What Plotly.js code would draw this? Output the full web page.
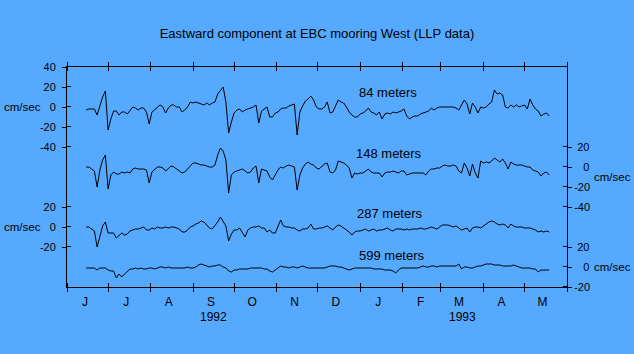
<!DOCTYPE html>
<html>
<head>
<meta charset="utf-8">
<script src="https://cdn.plot.ly/plotly-3.0.1.min.js"></script>
<style>
html,body{margin:0;padding:0;background:#55AAFF;}
#chart{width:634px;height:354px;}
</style>
</head>
<body>
<div id="chart"></div>
<script>
// ---- data (cm/sec), one value every 2 days starting 1992-06-15 ----
const startDate = '1992-06-15';
const stepDays = 2;
const seriesNames = ['84 meters', '148 meters', '287 meters', '599 meters'];

const u84 = [
 -3,-2,-2,-2,-8,1,10,16,-23,-12,
 -4,-4,-8,-5,-5,-7,-3,0,-1,-3,
 -1,-1,-5,-17,-5,-3,0,2,0,-6,
 -1,2,2,0,0,-5,-3,0,5,4,
 5,4,3,2,4,2,4,5,13,16,
 20,5,-26,-15,-6,-3,-2,-5,-3,-2,
 -1,0,2,-16,-4,-2,0,-10,-10,-6,
 -5,-2,-1,-1,1,2,3,-28,-5,1,
 6,8,11,7,0,-2,-2,0,5,-6,
 -5,1,7,5,4,0,-5,-8,-10,-10,
 -7,-6,-4,-1,-5,-6,-8,-5,-12,-7,
 -6,-7,-5,-6,-5,-4,-2,-9,-12,-10,
 -9,-9,-7,-6,-5,-4,-1,-3,-1,0,
 0,0,0,0,0,-1,-3,2,7,3,
 -7,4,0,-6,0,-1,0,3,5,17,
 13,14,12,0,-1,2,0,2,0,1,
 2,-2,8,2,-2,-4,-9,-7,-6,-9
];
const u148 = [
 0,0,-2,-4,-20,-3,7,12,-22,-8,
 -5,-7,-7,-5,-6,-5,-6,-2,-1,-2,
 -2,-2,-3,-16,-5,-2,0,0,-1,-4,
 -1,1,0,-2,-4,-6,-5,-2,1,4,
 4,3,2,2,1,0,0,2,12,19,
 16,7,-26,-8,-5,-4,-3,-2,-4,-6,
 -5,-1,1,-16,-2,-3,-4,-10,-13,-8,
 -3,0,-1,1,2,1,0,-23,-8,-1,
 3,5,3,2,-1,-2,1,3,4,-5,
 -6,-3,6,5,4,2,-1,-11,-6,-7,
 -6,-6,-4,-2,-5,-6,-6,-6,-10,-6,
 -5,-5,-4,-5,-6,-4,-4,-8,-7,-6,
 -6,-6,-6,-6,-8,-4,-2,-2,-1,-1,
 1,2,1,1,2,1,-4,-6,4,-1,
 -9,3,-6,-11,6,4,5,4,6,9,
 7,5,8,4,-2,5,3,2,2,2,
 1,0,0,-3,-4,-5,-9,-6,-5,-8
];
const u287 = [
 0,0,-2,-4,-20,-8,1,5,-6,-6,
 -6,-11,-8,-6,-8,-7,-4,-3,-2,-2,
 -1,0,-3,-3,-1,-2,0,-1,-1,0,
 -1,0,0,-1,-2,-5,-5,-3,0,1,
 3,4,6,5,2,-1,-2,1,5,10,
 6,1,-14,-7,-3,-3,-1,-5,-10,-3,
 -1,0,0,1,-1,-1,-5,-3,-6,-6,
 1,7,1,0,0,-1,-1,-3,-4,-2,
 -2,-1,3,-2,-2,-1,-1,0,1,-1,
 -3,0,2,1,-1,-3,-5,-8,-5,-4,
 -4,-3,-2,-4,-3,-2,-4,-3,-3,-2,
 -1,-3,-4,-2,-2,-2,-3,-2,-3,-2,
 -2,-2,-1,-2,-2,-1,0,-1,-2,0,
 2,2,2,1,0,1,-1,-3,-2,-1,
 -5,-1,0,0,-1,1,3,5,6,5,
 3,2,3,2,-1,3,1,0,0,0,
 -1,-1,-1,-2,-3,-5,-4,-5,-4,-5
];
const u599 = [
 -1,-1,-1,-1,-3,-1,-1,-1,-3,-4,
 -4,-11,-7,-10,-7,-4,-2,-2,-1,-2,
 -1,-2,-2,-1,-1,-2,-1,0,0,-1,
 0,-1,-1,-1,-1,-1,-1,0,-1,-1,
 0,2,3,2,1,0,1,1,2,2,
 0,-1,-4,-5,-3,-3,-2,-2,-2,-2,
 -1,-1,-1,-1,-1,-2,-2,-4,-5,-3,
 -1,1,0,0,-1,0,0,-1,0,1,
 0,-1,-1,-1,-1,-1,-1,-1,0,1,
 1,1,0,0,-1,-2,-3,-2,-1,-1,
 -1,-1,-1,-1,-1,-2,-2,-2,-2,-3,
 -3,-3,-4,-6,-3,-1,-1,-1,-1,-1,
 -1,-1,0,1,0,0,1,1,0,1,
 1,1,1,1,1,1,3,-2,0,0,
 -1,-1,0,1,1,2,3,3,3,2,
 2,2,1,1,1,1,2,1,0,-1,
 -1,-1,-1,-2,-2,-5,-3,-3,-3,-3
];

// ---- axis tick data ----
const monthStarts = ['1992-06-01','1992-07-01','1992-08-01','1992-09-01','1992-10-01','1992-11-01',
  '1992-12-01','1993-01-01','1993-02-01','1993-03-01','1993-04-01','1993-05-01','1993-06-01'];
const monthLabels = ['J','J','A','S','O','N','D','J','F','M','A','M'];
const yearLabels = ['1992','1993'];
const yearDates = ['1992-09-16','1993-03-17'];
const ticks84 = [40, 20, 0, -20, -40];
const ticks148 = [20, 0, -20, -40];
const ticks287 = [20, 0, -20];
const ticks599 = [20, 0, -20];
const unitLabel = 'cm/sec';
const titleText = 'Eastward component at EBC mooring West (LLP data)';

// ---- build ----
const FONT = '"Liberation Sans", Arial, sans-serif';
const BG = '#55AAFF';
const DAY = 86400000;
const t0 = Date.parse(startDate + 'T00:00:00Z');
function isoAt(ms) { return new Date(ms).toISOString().slice(0, 19).replace('T', ' '); }
function datesFor(arr) {
  return arr.map((_, i) => isoAt(t0 + i * stepDays * DAY).slice(0, 10));
}
const monthMs = monthStarts.map(s => Date.parse(s + 'T00:00:00Z'));
const monthMid = monthLabels.map((_, i) => isoAt(monthMs[i] + 13.2 * DAY));
const monthInner = monthMs.map(ms => isoAt(ms + 60000)); // inner half of the crossing ticks

const allSeries = [u84, u148, u287, u599];
const xRefs = ['x', 'x', 'x', 'x2'];
const yRefs = ['y', 'y2', 'y3', 'y4'];
const traces = allSeries.map((vals, k) => ({
  type: 'scatter', mode: 'lines', name: seriesNames[k],
  x: datesFor(vals), y: vals, xaxis: xRefs[k], yaxis: yRefs[k],
  line: {color: '#000000', width: 1}, hoverinfo: 'skip'
}));

const xRange = [monthStarts[0], monthStarts[monthStarts.length - 1]];
// right-side labels are right aligned in the original: pad with punctuation/figure spaces
function padRight(v) {
  const s = String(v);
  if (v < 0) return s;
  if (Math.abs(v) >= 10) return '\u2008' + s;
  return '\u2008\u2007' + s;
}
const tickFont = {family: FONT, size: 11, color: '#000'};
function yAxis(range, vals, side, overlay, labelsRight) {
  const ax = {
    range: range, side: side, anchor: 'x',
    tickvals: vals, ticktext: labelsRight ? vals.map(padRight) : vals.map(String),
    ticks: 'outside', ticklen: 4, tickwidth: 1, tickcolor: '#000',
    minor: {tickmode: 'array', tickvals: vals.map(v => v + 0.05), ticks: 'inside',
            ticklen: 4, tickwidth: 1, tickcolor: '#000', showgrid: false},
    showline: true, linecolor: '#000', linewidth: 1,
    showgrid: false, zeroline: false, fixedrange: true,
    tickfont: tickFont, ticklabelstandoff: side === 'left' ? 4 : 0
  };
  if (overlay) ax.overlaying = 'y';
  return ax;
}
const r84 = [-180, 40], r148 = [-120, 100], r287 = [-60, 160], r599 = [-20, 200];

const annFont = {family: FONT, size: 13, color: '#000'};
const unitFont = {family: FONT, size: 11.5, color: '#000'};
const annotations = [
  {text: seriesNames[0], xref: 'paper', x: 0.641, yref: 'y', y: 15, showarrow: false, font: annFont},
  {text: seriesNames[1], xref: 'paper', x: 0.643, yref: 'y2', y: 14, showarrow: false, font: annFont},
  {text: seriesNames[2], xref: 'paper', x: 0.646, yref: 'y3', y: 14, showarrow: false, font: annFont},
  {text: seriesNames[3], xref: 'paper', x: 0.650, yref: 'y4', y: 12, showarrow: false, font: annFont},
  {text: unitLabel, xref: 'paper', x: 0, xanchor: 'right', xshift: -24, yref: 'y', y: 0, showarrow: false, font: unitFont},
  {text: unitLabel, xref: 'paper', x: 0, xanchor: 'right', xshift: -24, yref: 'y3', y: 0, showarrow: false, font: unitFont},
  {text: unitLabel, xref: 'paper', x: 1, xanchor: 'left', xshift: 25, yref: 'y2', y: -10, showarrow: false, font: unitFont},
  {text: unitLabel, xref: 'paper', x: 1, xanchor: 'left', xshift: 25, yref: 'y4', y: 0, showarrow: false, font: unitFont}
];
yearLabels.forEach((t, i) => annotations.push({
  text: t, xref: 'x', x: yearDates[i], yref: 'paper', y: -0.138, yanchor: 'middle',
  showarrow: false, font: {family: FONT, size: 12, color: '#000'}
}));

const layout = {
  width: 634, height: 354,
  margin: {l: 67, r: 67, t: 67, b: 67},
  paper_bgcolor: BG, plot_bgcolor: BG,
  showlegend: false,
  font: {family: FONT, size: 12, color: '#000'},
  title: {text: titleText, font: {family: FONT, size: 13, color: '#000'},
          x: 0.5, xanchor: 'center', xref: 'container', y: 1 - 33 / 354, yanchor: 'middle', yref: 'container'},
  xaxis: {type: 'date', range: xRange, tickvals: monthStarts, ticktext: monthStarts.map(() => ''),
          ticks: 'outside', ticklen: 4, tickwidth: 1, tickcolor: '#000',
          minor: {tickmode: 'array', tickvals: monthInner, ticks: 'inside', ticklen: 4,
                  tickwidth: 1, tickcolor: '#000', showgrid: false},
          showline: true, linecolor: '#000', linewidth: 1, mirror: 'ticks',
          showgrid: false, zeroline: false, fixedrange: true},
  xaxis2: {type: 'date', range: xRange, overlaying: 'x', anchor: 'y', side: 'bottom',
           tickvals: monthMid, ticktext: monthLabels, ticks: '', showline: false,
           showgrid: false, zeroline: false, fixedrange: true,
           tickfont: {family: FONT, size: 12, color: '#000'}, ticklabelstandoff: 6},
  yaxis: yAxis(r84, ticks84, 'left', false, false),
  yaxis2: yAxis(r148, ticks148, 'right', true, true),
  yaxis3: Object.assign(yAxis(r287, ticks287, 'left', true, false), {showline: false}),
  yaxis4: Object.assign(yAxis(r599, ticks599, 'right', true, true), {showline: false}),
  annotations: annotations
};

Plotly.newPlot('chart', traces, layout, {displayModeBar: false, staticPlot: true});
</script>
</body>
</html>
